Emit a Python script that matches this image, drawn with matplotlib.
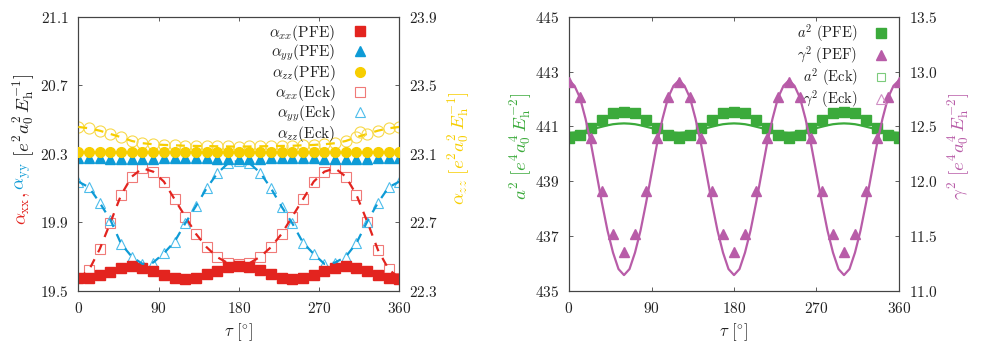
import matplotlib
matplotlib.use('Agg')
import matplotlib.pyplot as plt
from matplotlib.lines import Line2D

plt.rcParams['mathtext.fontset'] = 'cm'
plt.rcParams['font.family'] = 'serif'
plt.rcParams['font.serif'] = ['cmr10', 'DejaVu Serif']
plt.rcParams['axes.unicode_minus'] = False

# ---------------- data ----------------
tau = [0, 12, 24, 36, 48, 60, 72, 84, 96, 108, 120, 132, 144, 156, 168, 180,
       192, 204, 216, 228, 240, 252, 264, 276, 288, 300, 312, 324, 336, 348, 360]

axx_pfe = [19.575, 19.578, 19.594, 19.613, 19.637, 19.648, 19.637, 19.617, 19.594, 19.575, 19.571,
           19.578, 19.598, 19.617, 19.642, 19.646, 19.642, 19.623, 19.598, 19.578, 19.571,
           19.575, 19.594, 19.617, 19.637, 19.648, 19.637, 19.617, 19.594, 19.575, 19.571]
ayy_pfe = [20.275, 20.274, 20.273, 20.272, 20.271, 20.270, 20.271, 20.272, 20.273, 20.274, 20.275,
           20.274, 20.273, 20.272, 20.271, 20.270, 20.271, 20.272, 20.273, 20.274, 20.275,
           20.274, 20.273, 20.272, 20.271, 20.270, 20.271, 20.272, 20.273, 20.274, 20.275]
azz_pfe = [23.113, 23.113, 23.112, 23.112, 23.113, 23.113, 23.113, 23.112, 23.112, 23.113, 23.113,
           23.113, 23.112, 23.112, 23.113, 23.113, 23.113, 23.112, 23.112, 23.113, 23.113,
           23.113, 23.112, 23.112, 23.113, 23.113, 23.113, 23.112, 23.112, 23.113, 23.113]
axx_eck = [19.575, 19.622, 19.744, 19.899, 20.060, 20.167, 20.216, 20.196, 20.138, 20.035, 19.934,
           19.833, 19.755, 19.697, 19.662, 19.660, 19.662, 19.700, 19.755, 19.833, 19.934,
           20.035, 20.138, 20.196, 20.216, 20.167, 20.060, 19.905, 19.740, 19.627, 19.575]
ayy_eck = [20.138, 20.105, 20.015, 19.915, 19.775, 19.700, 19.658, 19.666, 19.720, 19.788, 19.895,
           19.996, 20.100, 20.187, 20.245, 20.260, 20.245, 20.190, 20.100, 19.992, 19.895,
           19.782, 19.716, 19.658, 19.666, 19.700, 19.780, 19.905, 20.014, 20.105, 20.138]
azz_eck = [23.257, 23.249, 23.235, 23.216, 23.197, 23.175, 23.162, 23.156, 23.152, 23.150, 23.147,
           23.146, 23.145, 23.144, 23.143, 23.142, 23.143, 23.144, 23.145, 23.146, 23.147,
           23.150, 23.152, 23.156, 23.162, 23.175, 23.197, 23.216, 23.235, 23.249, 23.257]

a2_pfe = [440.59, 440.69, 440.93, 441.23, 441.48, 441.54, 441.48, 441.23, 440.93, 440.69, 440.59,
          440.69, 440.93, 441.23, 441.48, 441.54, 441.48, 441.23, 440.93, 440.69, 440.59,
          440.69, 440.93, 441.23, 441.48, 441.54, 441.48, 441.23, 440.93, 440.69, 440.59]
g2_pfe = [12.902, 12.765, 12.392, 11.914, 11.516, 11.358, 11.516, 11.914, 12.392, 12.765, 12.902,
          12.765, 12.392, 11.914, 11.516, 11.358, 11.516, 11.914, 12.392, 12.765, 12.902,
          12.765, 12.392, 11.914, 11.516, 11.358, 11.516, 11.914, 12.392, 12.765, 12.902]

tau_fine = [0, 6, 12, 18, 24, 30, 36, 42, 48, 54, 60, 66, 72, 78, 84, 90, 96, 102, 108, 114,
            120, 126, 132, 138, 144, 150, 156, 162, 168, 174, 180, 186, 192, 198, 204, 210,
            216, 222, 228, 234, 240, 246, 252, 258, 264, 270, 276, 282, 288, 294, 300, 306,
            312, 318, 324, 330, 336, 342, 348, 354, 360]
a2_eck = [440.77, 440.78, 440.80, 440.84, 440.89, 440.94, 440.99, 441.04, 441.08, 441.10,
          441.11, 441.10, 441.08, 441.04, 440.99, 440.94, 440.89, 440.84, 440.80, 440.78,
          440.77, 440.78, 440.80, 440.84, 440.89, 440.94, 440.99, 441.04, 441.08, 441.10,
          441.11, 441.10, 441.08, 441.04, 440.99, 440.94, 440.89, 440.84, 440.80, 440.78,
          440.77, 440.78, 440.80, 440.84, 440.89, 440.94, 440.99, 441.04, 441.08, 441.10,
          441.11, 441.10, 441.08, 441.04, 440.99, 440.94, 440.89, 440.84, 440.80, 440.78,
          440.77]
g2_eck = [12.92, 12.87, 12.76, 12.57, 12.34, 12.07, 11.80, 11.55, 11.35, 11.20,
          11.145, 11.20, 11.35, 11.55, 11.80, 12.07, 12.34, 12.57, 12.76, 12.87,
          12.92, 12.87, 12.76, 12.57, 12.34, 12.07, 11.80, 11.55, 11.35, 11.20,
          11.145, 11.20, 11.35, 11.55, 11.80, 12.07, 12.34, 12.57, 12.76, 12.87,
          12.92, 12.87, 12.76, 12.57, 12.34, 12.07, 11.80, 11.55, 11.35, 11.20,
          11.145, 11.20, 11.35, 11.55, 11.80, 12.07, 12.34, 12.57, 12.76, 12.87,
          12.92]

xticks = [0, 90, 180, 270, 360]
yticksL = [19.5, 19.9, 20.3, 20.7, 21.1]
yticksLr = [22.3, 22.7, 23.1, 23.5, 23.9]
yticksR = [435, 437, 439, 441, 443, 445]
yticksRr = [11.0, 11.5, 12.0, 12.5, 13.0, 13.5]

# ---------------- style ----------------
RED, RED_L = '#E3241F', '#F07A78'
BLUE, BLUE_L = '#0E9BD6', '#4DBDEB'
YEL, YEL_L = '#F7CE00', '#F8D94A'
GRN, GRN_L = '#3BAA3B', '#7CCB7C'
PNK, PNK_L = '#B85CA8', '#D08DC4'
SPINE = '#444444'
TXT = '#222222'

fig = plt.figure(figsize=(9.96, 3.49), dpi=100)

def style_axes(ax):
    for s in ax.spines.values():
        s.set_color(SPINE)
        s.set_linewidth(0.8)
    ax.tick_params(axis='both', direction='in', length=3, width=0.6, color=SPINE,
                   labelcolor=TXT, labelsize=11, pad=7)

def dashed(ax, x, y, c):
    ln, = ax.plot(x, y, color=c, lw=1.6, zorder=4)
    ln.set_dashes([4, 3.5])

def m(v, fmt):
    return '$' + (fmt % v) + '$'

# ---------- left panel ----------
axL = fig.add_axes([0.0786, 0.1662, 0.3223, 0.786])
axLr = axL.twinx()
style_axes(axL)
style_axes(axLr)
axL.tick_params(top=True)

ms = 7
axL.plot(tau, axx_eck, ls='none', marker='s', ms=ms, mfc='none', mec=RED_L, mew=0.8, zorder=2)
axL.plot(tau, ayy_eck, ls='none', marker='^', ms=ms + 0.5, mfc='none', mec=BLUE_L, mew=0.8, zorder=2)
dashed(axL, tau, axx_eck, RED)
dashed(axL, tau, ayy_eck, BLUE)
axL.plot(tau, axx_pfe, ls='none', marker='s', ms=ms - 0.5, color=RED, zorder=3)
axL.plot(tau, ayy_pfe, ls='none', marker='^', ms=ms - 0.5, color=BLUE, zorder=3)
axLr.plot(tau, azz_eck, ls='none', marker='o', ms=ms + 1, mfc='none', mec=YEL_L, mew=0.8, zorder=2)
dashed(axLr, tau, azz_eck, YEL)
axLr.plot(tau, azz_pfe, ls='none', marker='o', ms=ms, color=YEL, zorder=3)

axL.set_xlim(0, 360)
axL.set_ylim(19.5, 21.1)
axLr.set_ylim(22.3, 23.9)
axL.set_xticks(xticks, [m(v, '%d') for v in xticks])
axL.set_yticks(yticksL, [m(v, '%.1f') for v in yticksL])
axLr.set_yticks(yticksLr, [m(v, '%.1f') for v in yticksLr])
axL.set_xlabel(r'$\tau\ [^{\circ}]$', fontsize=12, color=TXT, labelpad=4)

handlesL = [
    Line2D([], [], ls='none', marker='s', ms=ms - 0.5, color=RED),
    Line2D([], [], ls='none', marker='^', ms=ms - 0.5, color=BLUE),
    Line2D([], [], ls='none', marker='o', ms=ms, color=YEL),
    Line2D([], [], ls='none', marker='s', ms=ms, mfc='none', mec=RED_L, mew=0.8),
    Line2D([], [], ls='none', marker='^', ms=ms + 0.5, mfc='none', mec=BLUE_L, mew=0.8),
    Line2D([], [], ls='none', marker='o', ms=ms + 1, mfc='none', mec=YEL_L, mew=0.8),
]
labelsL = [r'$\alpha_{xx}\mathrm{(PFE)}$', r'$\alpha_{yy}\mathrm{(PFE)}$', r'$\alpha_{zz}\mathrm{(PFE)}$',
           r'$\alpha_{xx}\mathrm{(Eck)}$', r'$\alpha_{yy}\mathrm{(Eck)}$', r'$\alpha_{zz}\mathrm{(Eck)}$']
legL = axLr.legend(handlesL, labelsL, loc='upper right', bbox_to_anchor=(0.92, 1.0),
                   frameon=False, markerfirst=False, handlelength=1.0, handletextpad=1.1,
                   labelspacing=0.0, fontsize=11, borderaxespad=0.0)
for t in legL.get_texts():
    t.set_color(TXT)

# ---------- right panel ----------
axR = fig.add_axes([0.5713, 0.1662, 0.3313, 0.786])
axRr = axR.twinx()
style_axes(axR)
style_axes(axRr)
axR.tick_params(top=True)

axR.plot(tau_fine, a2_eck, color=GRN, lw=1.6, zorder=2)
axR.plot(tau, a2_pfe, ls='none', marker='s', ms=ms - 0.5, color=GRN, zorder=3)
axRr.plot(tau_fine, g2_eck, color=PNK, lw=1.6, zorder=2)
axRr.plot(tau, g2_pfe, ls='none', marker='^', ms=ms, color=PNK, zorder=3)

axR.set_xlim(0, 360)
axR.set_ylim(435, 445)
axRr.set_ylim(11.0, 13.5)
axR.set_xticks(xticks, [m(v, '%d') for v in xticks])
axR.set_yticks(yticksR, [m(v, '%d') for v in yticksR])
axRr.set_yticks(yticksRr, [m(v, '%.1f') for v in yticksRr])
axR.set_xlabel(r'$\tau\ [^{\circ}]$', fontsize=12, color=TXT, labelpad=4)

handlesR = [
    Line2D([], [], ls='none', marker='s', ms=ms - 0.5, color=GRN),
    Line2D([], [], ls='none', marker='^', ms=ms, color=PNK),
    Line2D([], [], ls='none', marker='s', ms=ms - 1.5, mfc='none', mec=GRN_L, mew=0.8),
    Line2D([], [], ls='none', marker='^', ms=ms + 0.5, mfc='none', mec=PNK_L, mew=0.8),
]
labelsR = [r'$a^2\ \mathrm{(PFE)}$', r'$\gamma^2\ \mathrm{(PEF)}$',
           r'$a^2\ \mathrm{(Eck)}$', r'$\gamma^2\ \mathrm{(Eck)}$']
legR = axRr.legend(handlesR, labelsR, loc='upper right', bbox_to_anchor=(0.985, 1.0),
                   frameon=False, markerfirst=False, handlelength=1.0, handletextpad=1.1,
                   labelspacing=0.0, fontsize=10.5, borderaxespad=0.0)
for t in legR.get_texts():
    t.set_color(TXT)

# ---------- y labels ----------
fig.canvas.draw()
r = fig.canvas.get_renderer()
H = fig.bbox.height

def stacked_label(x_px, yc_px, parts, size):
    texts = []
    for s, c in parts:
        t = fig.text(0, 0, s, rotation=90, ha='center', va='bottom', fontsize=size, color=c)
        texts.append(t)
    heights = [t.get_window_extent(r).height for t in texts]
    total = sum(heights)
    y = (H - yc_px) - total / 2
    for t, h in zip(texts, heights):
        t.set_position((x_px / fig.bbox.width, y / H))
        y += h

stacked_label(23, 149, [(r'$\alpha_{\rm xx}$,', RED), (r'$\,\alpha_{\rm yy}$', BLUE),
                        (r'$\ [e^2a_0^2\,E_{\rm h}^{-1}]$', TXT)], 13.5)
stacked_label(458, 148, [(r'$\alpha_{zz}\ [e^2a_0^2\,E_{\rm h}^{-1}]$', YEL)], 13.5)
stacked_label(520, 146, [(r'$a^2\ [e^4a_0^4\,E_{\rm h}^{-2}]$', GRN)], 13.5)
stacked_label(958, 146, [(r'$\gamma^2\ [e^4a_0^4\,E_{\rm h}^{-2}]$', PNK)], 13.5)

fig.savefig('out.png', dpi=100)
